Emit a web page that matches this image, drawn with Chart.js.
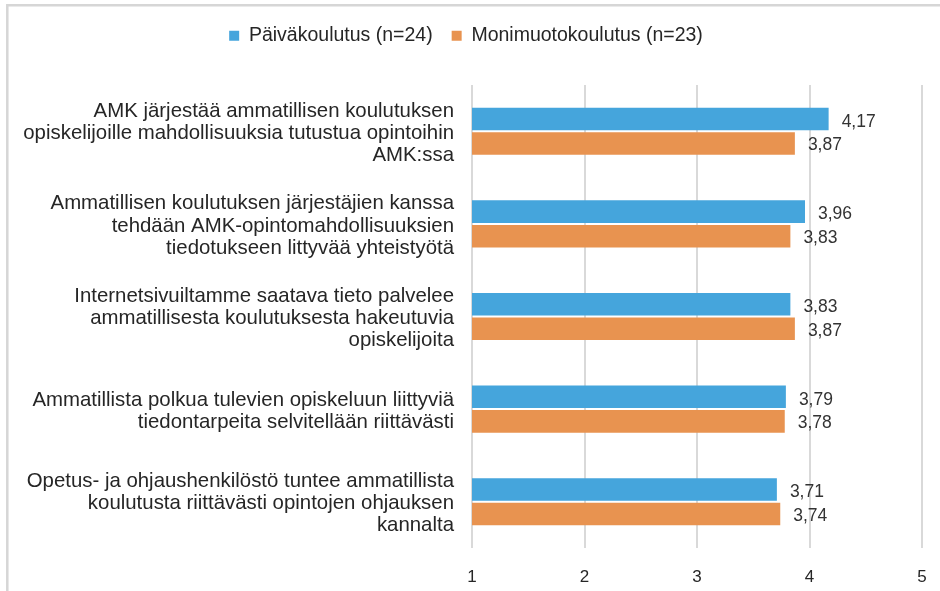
<!DOCTYPE html>
<html>
<head>
<meta charset="utf-8">
<script src="https://cdn.jsdelivr.net/npm/chart.js@4"></script>
<style>
html,body{margin:0;padding:0;background:#fff;}
#wrap{position:absolute;left:0;top:0;width:940px;height:591px;}
</style>
</head>
<body>
<div id="wrap"><canvas id="c" width="940" height="591"></canvas></div>
<script>
const categories = [
  ["AMK järjestää ammatillisen koulutuksen", "opiskelijoille mahdollisuuksia tutustua opintoihin", "AMK:ssa"],
  ["Ammatillisen koulutuksen järjestäjien kanssa", "tehdään AMK-opintomahdollisuuksien", "tiedotukseen littyvää yhteistyötä"],
  ["Internetsivuiltamme saatava tieto palvelee", "ammatillisesta koulutuksesta hakeutuvia", "opiskelijoita"],
  ["Ammatillista polkua tulevien opiskeluun liittyviä", "tiedontarpeita selvitellään riittävästi"],
  ["Opetus- ja ohjaushenkilöstö tuntee ammatillista", "koulutusta riittävästi opintojen ohjauksen", "kannalta"]
];
const seriesNames = ["Päiväkoulutus (n=24)", "Monimuotokoulutus (n=23)"];
const paivakoulutus = [4.17, 3.96, 3.83, 3.79, 3.71];
const monimuotokoulutus = [3.87, 3.83, 3.87, 3.78, 3.74];
const xTicks = [1, 2, 3, 4, 5];

const FONT = "'Liberation Sans', Arial, sans-serif";
const TEXT = '#262626';
const GRID = '#d9d9d9';

Chart.defaults.font.family = FONT;
Chart.defaults.color = TEXT;

const frame = {
  id: 'frame',
  beforeDraw(chart) {
    const ctx = chart.ctx;
    ctx.save();
    ctx.strokeStyle = '#d6d6d6';
    ctx.lineWidth = 2.5;
    ctx.beginPath();
    ctx.moveTo(7.3, 591);
    ctx.lineTo(7.3, 5.3);
    ctx.lineTo(940, 5.3);
    ctx.stroke();
    ctx.restore();
  }
};

const legendFix = {
  id: 'legendFix',
  beforeUpdate(chart) {
    const lg = chart.legend;
    if (lg && !lg._patched) {
      const orig = lg.fit;
      lg.fit = function () { orig.call(this); this.height = 78; };
      lg._patched = true;
    }
  }
};

const valueLabels = {
  id: 'valueLabels',
  afterDatasetsDraw(chart) {
    const ctx = chart.ctx;
    ctx.save();
    ctx.font = '17.5px ' + FONT;
    ctx.fillStyle = '#333333';
    ctx.textAlign = 'left';
    ctx.textBaseline = 'middle';
    chart.data.datasets.forEach((ds, di) => {
      const meta = chart.getDatasetMeta(di);
      meta.data.forEach((el, i) => {
        const v = ds.data[i];
        const txt = v.toFixed(2).replace('.', ',');
        ctx.fillText(txt, el.x + 13, el.y + (di === 0 ? 3 : 2));
      });
    });
    ctx.restore();
  }
};

new Chart(document.getElementById('c'), {
  type: 'bar',
  data: {
    labels: categories,
    datasets: [
      {
        label: seriesNames[0],
        data: paivakoulutus,
        backgroundColor: '#45a5dc',
        borderWidth: 0,
        categoryPercentage: 0.53,
        barPercentage: 0.92
      },
      {
        label: seriesNames[1],
        data: monimuotokoulutus,
        backgroundColor: '#e89350',
        borderWidth: 0,
        categoryPercentage: 0.53,
        barPercentage: 0.92
      }
    ]
  },
  options: {
    indexAxis: 'y',
    responsive: false,
    animation: false,
    devicePixelRatio: 1,
    layout: { padding: { left: 10, right: 18, top: 7, bottom: 0 } },
    plugins: {
      legend: {
        position: 'top',
        align: 'center',
        labels: {
          boxWidth: 10,
          boxHeight: 10,
          padding: 19,
          color: TEXT,
          font: { size: 19.5, family: FONT }
        }
      },
      tooltip: { enabled: false }
    },
    scales: {
      x: {
        min: 1,
        max: 5,
        afterBuildTicks(scale) { scale.ticks = xTicks.map(v => ({ value: v })); },
        afterFit(scale) { scale.height = 43; scale.paddingLeft = 4; scale.paddingRight = 4; },
        ticks: {
          stepSize: 1,
          padding: 19,
          color: TEXT,
          font: { size: 17, family: FONT }
        },
        grid: { color: GRID, lineWidth: 2, drawTicks: false },
        border: { display: false }
      },
      y: {
        afterFit(scale) { scale.width = 462; scale.paddingTop = 0; scale.paddingBottom = 0; },
        ticks: {
          padding: 18,
          labelOffset: 2,
          color: TEXT,
          font: { size: 20.4, family: FONT, lineHeight: 1.08 }
        },
        grid: { display: false, drawTicks: false },
        border: { display: false }
      }
    }
  },
  plugins: [frame, legendFix, valueLabels]
});
</script>
</body>
</html>
